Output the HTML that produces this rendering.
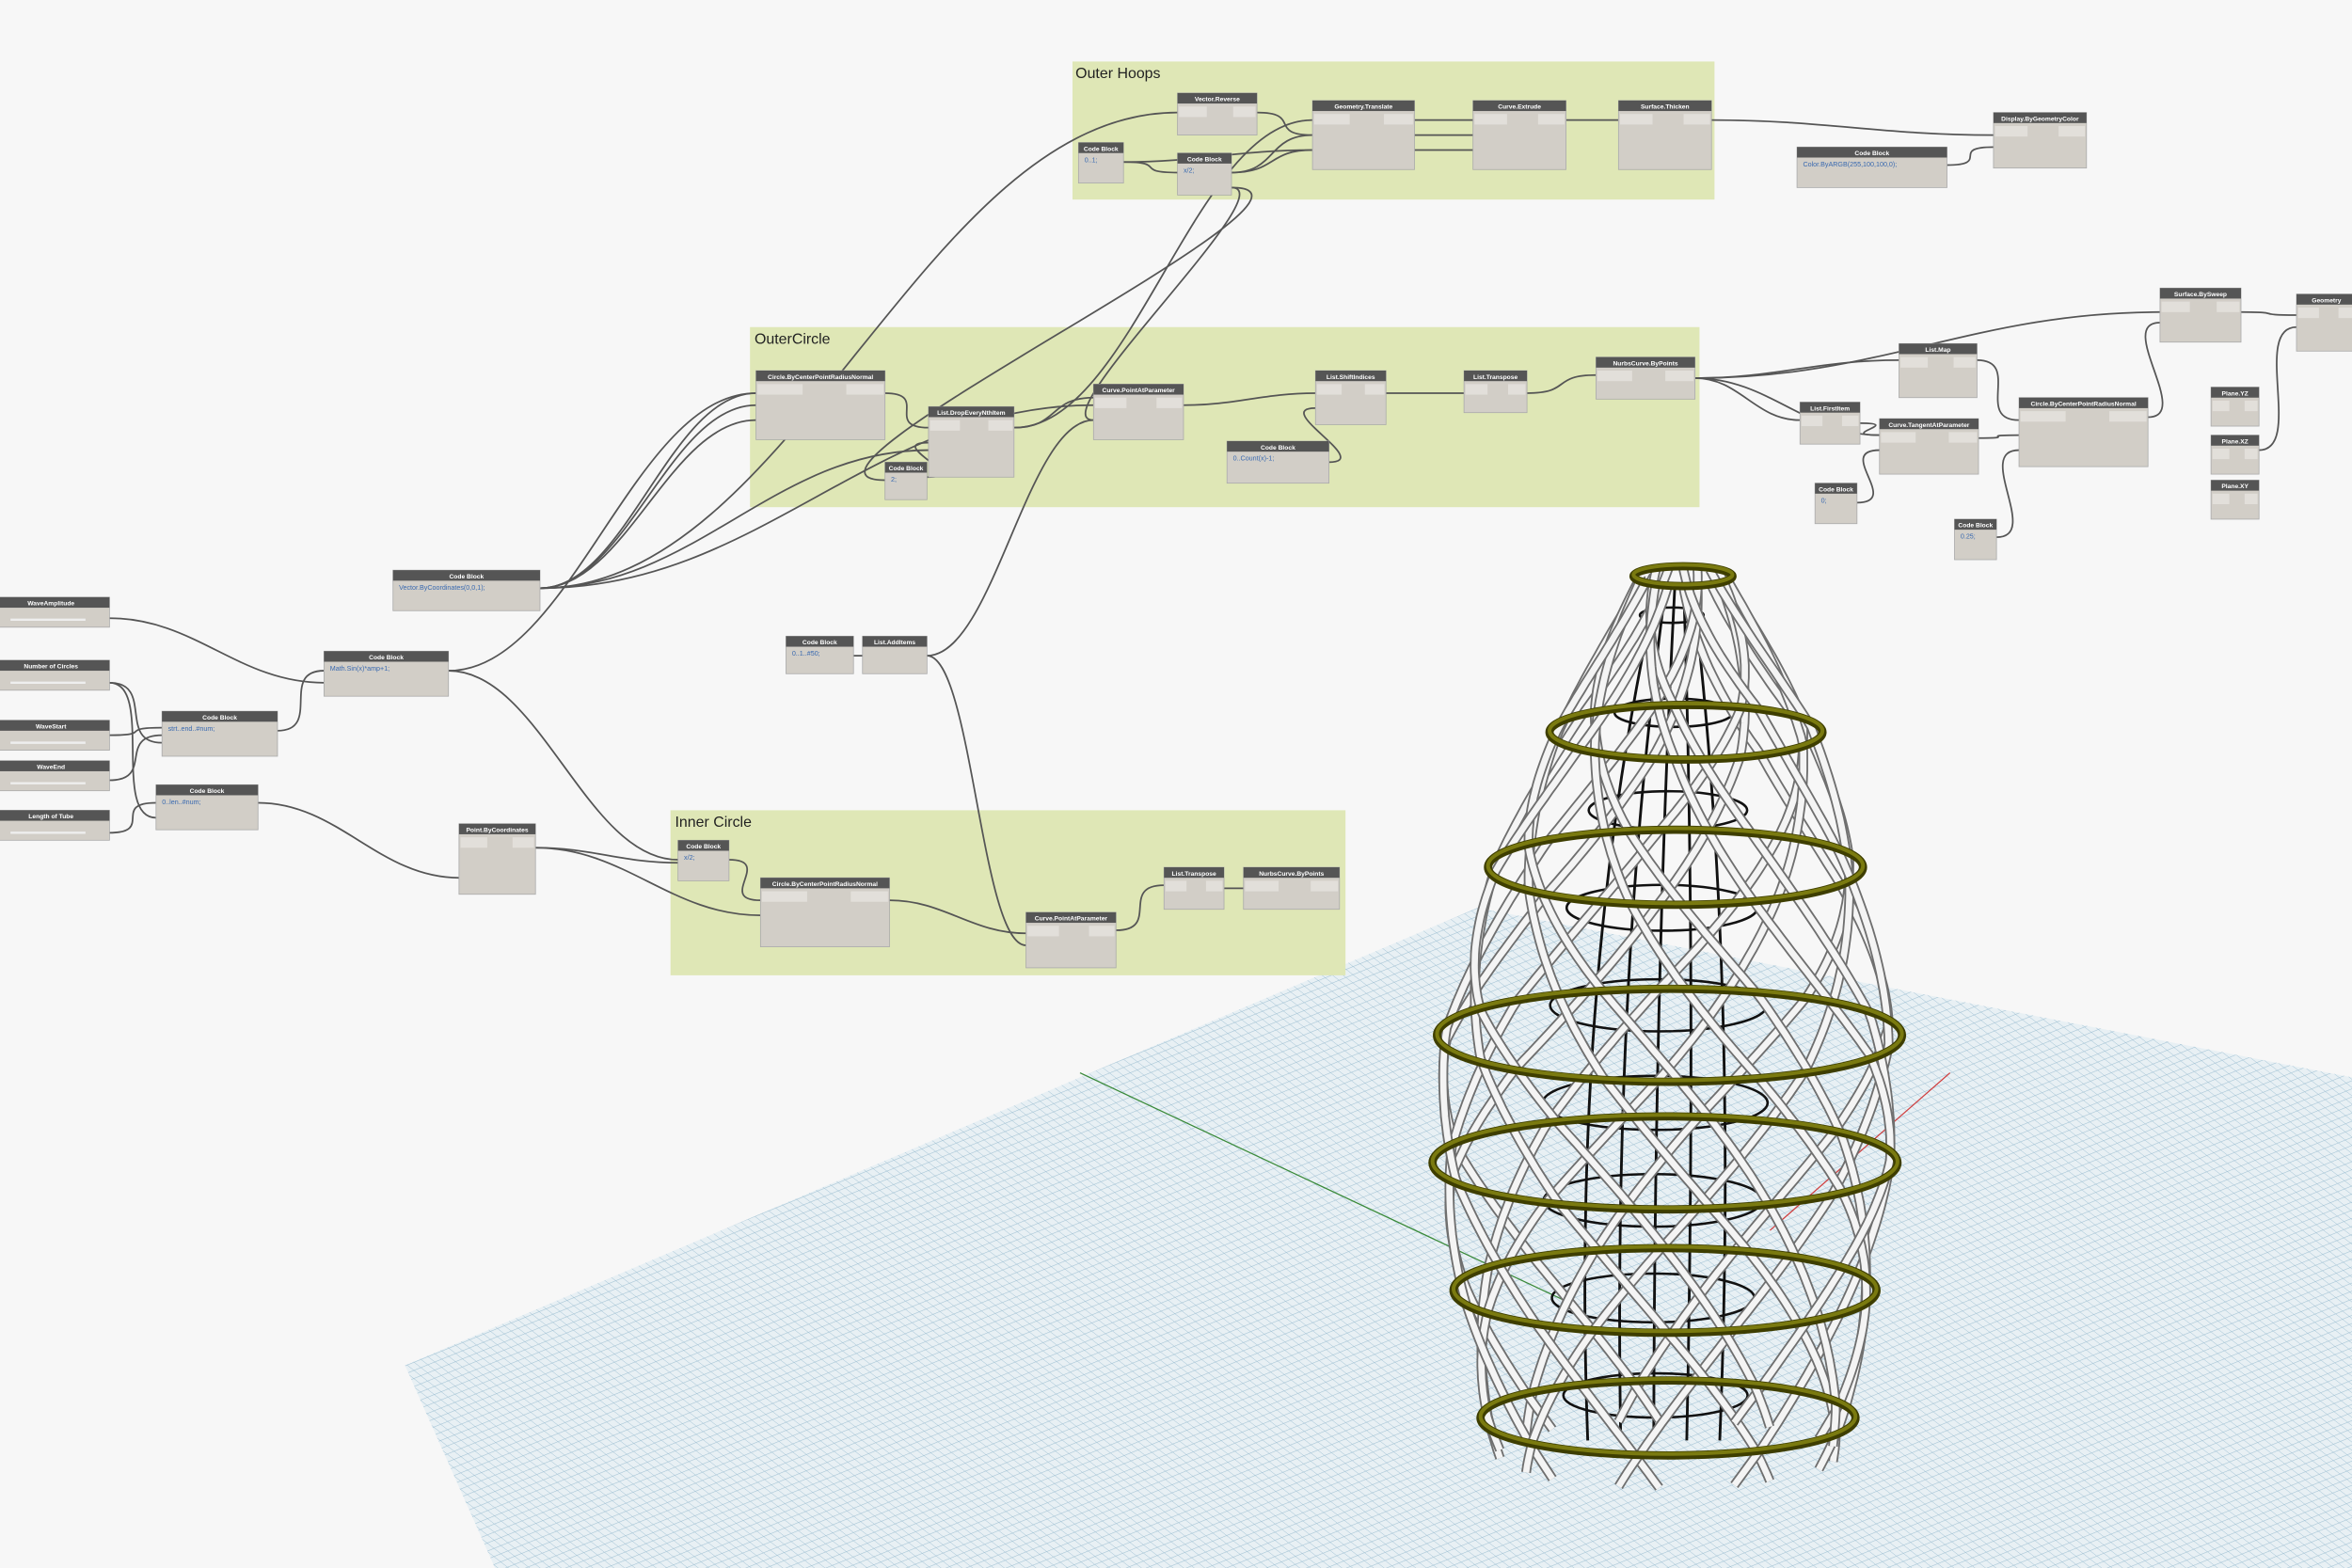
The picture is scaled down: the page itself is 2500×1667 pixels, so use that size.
<!DOCTYPE html>
<html><head><meta charset="utf-8"><style>
html,body{margin:0;padding:0;background:#f7f7f7;}
svg{display:block;}
text{font-family:"Liberation Sans",sans-serif;}
</style></head><body>
<svg id="s" width="2500" height="1667" viewBox="0 0 1568 1045" preserveAspectRatio="none" xmlns="http://www.w3.org/2000/svg">
<defs>
<pattern id="g" width="5" height="5" patternUnits="userSpaceOnUse" patternTransform="rotate(-22) skewX(30)">
<rect width="5" height="5" fill="#e8f0f4"/>
<path d="M0 0H5M0 0V5" stroke="#9fc0d3" stroke-width="0.6"/>
</pattern>
</defs>
<rect width="1568" height="1045" fill="#f7f7f7"/>
<polygon points="270,910 985,605 1568,718 1568,1045 330,1045" fill="url(#g)"/>
<line x1="720" y1="715" x2="1050" y2="870" stroke="#3a8a3a" stroke-width="0.8"/>
<line x1="1300" y1="715" x2="1180" y2="820" stroke="#d04040" stroke-width="0.8"/>
<rect x="715" y="41" width="428" height="92" fill="#dfe7b6"/>
<text x="717" y="52" font-size="10" fill="#222">Outer Hoops</text>
<rect x="500" y="218" width="633" height="120" fill="#dfe7b6"/>
<text x="503" y="229" font-size="10" fill="#222">OuterCircle</text>
<rect x="447" y="540" width="450" height="110" fill="#dfe7b6"/>
<text x="450" y="551" font-size="10" fill="#222">Inner Circle</text>
<g id="wires" fill="none" stroke="#555" stroke-width="1.1"></g>
<g id="nodes"></g>
<g id="vase"></g>
</svg>
<script>
var NS="http://www.w3.org/2000/svg";
function el(p,t,a,txt){var e=document.createElementNS(NS,t);for(var k in a)e.setAttribute(k,a[k]);if(txt)e.textContent=txt;p.appendChild(e);return e;}
var W=document.getElementById('wires'),N=document.getElementById('nodes'),V=document.getElementById('vase');
var wires=[
[360,392,504,262],[360,392,504,270],[360,392,504,280],[360,392,619,300],[360,392,785,75],[360,392,729,270],
[299,447,504,262],[299,447,452,573],[73,412,216,455],[73,455,108,495],[73,490,108,485],[73,520,108,490],[73,455,104,545],[73,555,104,535],
[185,487,216,447],[172,535,306,585],[357,565,452,575],[357,565,507,610],[486,573,507,600],
[590,262,619,285],[618,318,619,295],[676,285,729,265],[676,285,875,80],[789,270,877,262],[886,308,877,272],
[924,262,976,262],[1018,262,1064,250],[1130,252,1266,240],[1130,252,1200,280],[1130,252,1253,290],[1130,252,1440,208],
[749,108,785,115],[749,108,875,100],[821,115,875,100],[821,115,875,90],[838,75,875,90],[943,80,982,80],[943,90,982,90],[943,100,982,100],
[1044,80,1079,80],[1141,80,1329,90],[1298,110,1329,98],[821,125,729,280],[821,125,590,320],[618,437,729,280],[618,437,684,630],
[593,600,684,622],[744,620,776,590],[816,592,829,592],[1432,278,1440,215],[1494,208,1531,210],[1506,300,1531,218],
[1238,335,1253,300],[1240,282,1253,290],[1318,292,1346,290],[1331,358,1346,300],[1318,240,1346,280],[569,437,575,437]];
wires.forEach(function(w){var d=Math.max(30,Math.abs(w[2]-w[0])*0.4);
el(W,'path',{d:'M'+w[0]+' '+w[1]+' C'+(w[0]+d)+' '+w[1]+','+(w[2]-d)+' '+w[3]+','+w[2]+' '+w[3]});});
var nodes=[
[785,62,53,28,'Vector.Reverse'],[719,95,30,27,'Code Block','0..1;'],[785,102,36,28,'Code Block','x/2;'],
[875,67,68,46,'Geometry.Translate'],[982,67,62,46,'Curve.Extrude'],[1079,67,62,46,'Surface.Thicken'],
[1329,75,62,37,'Display.ByGeometryColor'],[1198,98,100,27,'Code Block','Color.ByARGB(255,100,100,0);'],
[504,247,86,46,'Circle.ByCenterPointRadiusNormal'],[619,271,57,47,'List.DropEveryNthItem'],[590,308,28,25,'Code Block','2;'],
[729,256,60,37,'Curve.PointAtParameter'],[877,247,47,36,'List.ShiftIndices'],[818,294,68,28,'Code Block','0..Count(x)-1;'],
[976,247,42,28,'List.Transpose'],[1064,238,66,28,'NurbsCurve.ByPoints'],
[1440,192,54,36,'Surface.BySweep'],[1531,196,40,38,'Geometry'],[1266,229,52,36,'List.Map'],[1200,268,40,28,'List.FirstItem'],
[1253,279,66,37,'Curve.TangentAtParameter'],[1346,265,86,46,'Circle.ByCenterPointRadiusNormal'],
[1210,322,28,27,'Code Block','0;'],[1303,346,28,27,'Code Block','0.25;'],
[1474,258,32,26,'Plane.YZ'],[1474,290,32,26,'Plane.XZ'],[1474,320,32,26,'Plane.XY'],
[262,380,98,27,'Code Block','Vector.ByCoordinates(0,0,1);'],[216,434,83,30,'Code Block','Math.Sin(x)*amp+1;'],
[108,474,77,30,'Code Block','strt..end..#num;'],[104,523,68,30,'Code Block','0..len..#num;'],
[306,549,51,47,'Point.ByCoordinates'],[524,424,45,25,'Code Block','0..1..#50;'],[575,424,43,25,'List.AddItems'],
[452,560,34,27,'Code Block','x/2;'],[507,585,86,46,'Circle.ByCenterPointRadiusNormal'],[684,608,60,37,'Curve.PointAtParameter'],
[776,578,40,28,'List.Transpose'],[829,578,64,28,'NurbsCurve.ByPoints'],
[-5,398,78,20,'WaveAmplitude'],[-5,440,78,20,'Number of Circles'],[-5,480,78,20,'WaveStart'],[-5,507,78,20,'WaveEnd'],[-5,540,78,20,'Length of Tube']];
nodes.forEach(function(n){var g=el(N,'g',{});
el(g,'rect',{x:n[0],y:n[1],width:n[2],height:n[3],fill:'#d2cec7',stroke:'#aaa','stroke-width':0.5});
el(g,'rect',{x:n[0],y:n[1],width:n[2],height:7,fill:'#555'});
el(g,'text',{x:n[0]+n[2]/2,y:n[1]+5.5,'font-size':4.2,'font-weight':'bold',fill:'#fff','text-anchor':'middle'},n[4]);
if(n[5])el(g,'text',{x:n[0]+4,y:n[1]+13,'font-size':4.5,fill:'#3a6ab0','font-family':'Liberation Mono'},n[5]);
else if(n[3]>25){el(g,'rect',{x:n[0]+1,y:n[1]+9,width:n[2]*0.35,height:7,fill:'#e2dfda'});el(g,'rect',{x:n[0]+n[2]*0.7,y:n[1]+9,width:n[2]*0.3-1,height:7,fill:'#e2dfda'});}
if(n[3]==20)el(g,'line',{x1:n[0]+12,y1:n[1]+15,x2:n[0]+62,y2:n[1]+15,stroke:'#eee','stroke-width':1.5});
});
var prof=[[384,28,1122],[488,86,1124],[578,120,1117],[690,150,1113],[775,150,1110],[860,136,1110],[945,120,1112],[972,112,1112]];
function R(y){for(var i=0;i<prof.length-1;i++){var a=prof[i],b=prof[i+1];if(y<=b[0]){var t=(y-a[0])/(b[0]-a[0]);return [a[1]+(b[1]-a[1])*t,a[2]+(b[2]-a[2])*t];}}return [prof[7][1],prof[7][2]];}
for(var i=0;i<9;i++){var y=410+i*65,r=R(y);el(V,'ellipse',{cx:r[1]-8,cy:y,rx:r[0]*0.5,ry:r[0]*0.12,fill:'none',stroke:'#111','stroke-width':1.6});}
[-45,-25,-5,15,35].forEach(function(o){el(V,'path',{d:'M'+(1118+o*0.3)+' 392 Q'+(1110+o*1.4)+' 650 '+(1108+o*1.1)+' 960',stroke:'#111','stroke-width':1.8,fill:'none'});});
function strand(th0,dir){var pts=[];for(var y=384;y<=972;y+=5){var r=R(y),t=(y-384)/588;var th=th0+dir*t*Math.PI*1.1;
pts.push((r[1]+r[0]*Math.sin(th)).toFixed(1)+','+(y+r[0]*0.2*Math.cos(th)).toFixed(1));}return pts.join(' ');}
for(var k=0;k<9;k++){[1,-1].forEach(function(d){var p=strand(k*2*Math.PI/9+(d>0?0:0.35),d);
el(V,'polyline',{points:p,fill:'none',stroke:'#6f6f6f','stroke-width':6.5});
el(V,'polyline',{points:p,fill:'none',stroke:'#f4f4f4','stroke-width':4.2});});}
[384,488,578,690,775,860,945].forEach(function(y){var r=R(y);
el(V,'ellipse',{cx:r[1],cy:y,rx:r[0]+5,ry:(r[0]+5)*0.2,fill:'none',stroke:'#3e3e00','stroke-width':5.5});
el(V,'ellipse',{cx:r[1],cy:y-1,rx:r[0]+5,ry:(r[0]+5)*0.2,fill:'none',stroke:'#7a7a10','stroke-width':2.5});});
</script>
</body></html>
